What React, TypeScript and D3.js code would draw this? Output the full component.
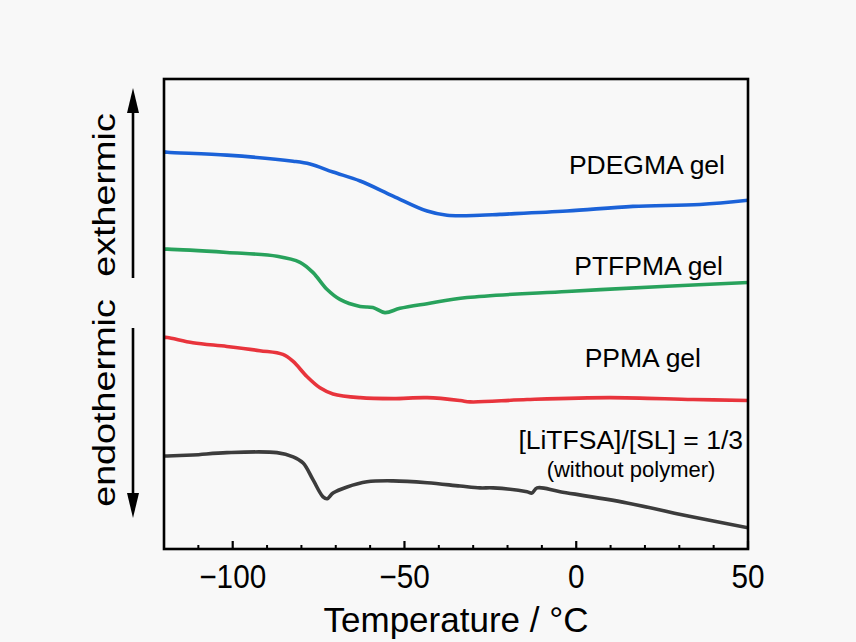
import React from "react";
import * as d3 from "d3";

// ---- Data (temperature in °C, heat flow in arbitrary units) ----
const pdegmaT = [-120, -119, -101.7, -82.4, -77.5, -70.8, -62.9, -53.3, -43.4, -37.6, -28, -22.2, -2.7, 16.5, 36, 50];
const pdegmaY = [8.45, 8.44, 8.38, 8.25, 8.19, 8.02, 7.83, 7.51, 7.19, 7.1, 7.1, 7.12, 7.19, 7.29, 7.33, 7.42];

const ptfpmaT = [-120, -119, -101.7, -87.1, -80.4, -76.6, -72.5, -68.8, -62.9, -59.2, -55.7, -51.3, -43.4, -31.8, -2.7, 26.4, 50];
const ptfpmaY = [6.38, 6.38, 6.31, 6.23, 6.1, 5.88, 5.52, 5.31, 5.16, 5.14, 5.03, 5.12, 5.22, 5.35, 5.48, 5.59, 5.67];

const ppmaT = [-120, -119, -111.6, -101.7, -92.1, -85.4, -82.4, -78.4, -74.6, -70.8, -62.9, -53.3, -43.4, -33.8, -30.9, -14.3, 9.8, 34, 50];
const ppmaY = [4.5, 4.5, 4.39, 4.31, 4.22, 4.14, 3.99, 3.67, 3.43, 3.3, 3.22, 3.2, 3.22, 3.16, 3.13, 3.18, 3.22, 3.18, 3.16];

const saltT = [-120, -119, -111.6, -101.7, -87.1, -82.4, -79.5, -76.6, -73.7, -72.5, -70.8, -66.7, -60.9, -53.3, -43.4, -33.8, -28, -24.2, -14.3, -12.9, -11.4, -4.7, 14.8, 34, 50];
const saltY = [1.98, 1.98, 2.0, 2.05, 2.05, 1.96, 1.83, 1.47, 1.11, 1.07, 1.19, 1.32, 1.43, 1.45, 1.41, 1.34, 1.3, 1.3, 1.22, 1.19, 1.3, 1.22, 0.98, 0.68, 0.45];

const seriesNames = ["PDEGMA gel", "PTFPMA gel", "PPMA gel", "[LiTFSA]/[SL] = 1/3"];
const seriesColors = ["#1b62d8", "#28a25c", "#e8343c", "#3c3c3c"];

const xTicks = [-100, -50, 0, 50];
const xMinorTicks = [-110, -90, -80, -70, -60, -40, -30, -20, -10, 10, 20, 30, 40];
const xDomain = [-120, 50];
const yDomain = [0, 10];

export default function App() {
  const W = 856, H = 642;
  const left = 164, right = 748, top = 79, bottom = 549;
  const x = d3.scaleLinear().domain(xDomain).range([left, right]);
  const y = d3.scaleLinear().domain(yDomain).range([bottom, top]);
  const line = d3
    .line<[number, number]>()
    .x((d) => x(d[0]))
    .y((d) => y(d[1]))
    .curve(d3.curveCatmullRom.alpha(0.5));

  const series = [
    { T: pdegmaT, Y: pdegmaY },
    { T: ptfpmaT, Y: ptfpmaY },
    { T: ppmaT, Y: ppmaY },
    { T: saltT, Y: saltY },
  ];

  const font = "'Liberation Sans', Arial, Helvetica, sans-serif";
  const arrowX = 133;

  return (
    <svg
      width={W}
      height={H}
      style={{ position: "absolute", left: 0, top: 0, background: "#f8f8f8" }}
      fontFamily={font}
    >
      <defs>
        <clipPath id="plotclip">
          <rect x={left} y={top} width={right - left} height={bottom - top} />
        </clipPath>
      </defs>
      <rect x={0} y={0} width={W} height={H} fill="#f8f8f8" />
      <g clipPath="url(#plotclip)">
        {series.map((s, i) => (
          <path
            key={i}
            d={line(s.T.map((t, j) => [t, s.Y[j]] as [number, number])) || ""}
            fill="none"
            stroke={seriesColors[i]}
            strokeWidth={3.6}
            strokeLinejoin="round"
            strokeLinecap="round"
          />
        ))}
      </g>
      {/* frame */}
      <rect x={left} y={top} width={right - left} height={bottom - top} fill="none" stroke="#000" strokeWidth={2.6} />
      {/* ticks */}
      {xTicks.map((t) => (
        <line key={"M" + t} x1={x(t)} x2={x(t)} y1={bottom} y2={bottom - 8} stroke="#000" strokeWidth={2.2} />
      ))}
      {xMinorTicks.map((t) => (
        <line key={"m" + t} x1={x(t)} x2={x(t)} y1={bottom} y2={bottom - 4} stroke="#000" strokeWidth={2} />
      ))}
      {xTicks.map((t) => (
        <text
          key={"L" + t}
          transform={`translate(${x(t)},588) scale(0.9,1)`}
          textAnchor="middle"
          fontSize={33}
          fill="#000"
        >
          {t < 0 ? "\u2212" + Math.abs(t) : String(t)}
        </text>
      ))}
      <text x={(left + right) / 2} y={632} textAnchor="middle" fontSize={35} fill="#000">
        Temperature / °C
      </text>

      {/* series labels */}
      <text x={725} y={174} textAnchor="end" fontSize={26.5} fill="#000">{seriesNames[0]}</text>
      <text x={723} y={275} textAnchor="end" fontSize={26.5} fill="#000">{seriesNames[1]}</text>
      <text x={701} y={367} textAnchor="end" fontSize={26.5} fill="#000">{seriesNames[2]}</text>
      <text x={743} y={449} textAnchor="end" fontSize={26.5} fill="#000">{seriesNames[3]}</text>
      <text x={631} y={477} textAnchor="middle" fontSize={22} fill="#000">(without polymer)</text>

      {/* side labels */}
      <text transform="translate(115,195) rotate(-90) scale(1.18,1)" textAnchor="middle" fontSize={32} fill="#000">
        exthermic
      </text>
      <text transform="translate(115,403) rotate(-90) scale(1.18,1)" textAnchor="middle" fontSize={32} fill="#000">
        endothermic
      </text>

      {/* arrows */}
      <line x1={arrowX} x2={arrowX} y1={110} y2={278} stroke="#000" strokeWidth={2.6} />
      <path d={`M${arrowX},88 L${arrowX - 6},113 L${arrowX + 6},113 Z`} fill="#000" />
      <line x1={arrowX} x2={arrowX} y1={328} y2={495} stroke="#000" strokeWidth={2.6} />
      <path d={`M${arrowX},518 L${arrowX - 6},493 L${arrowX + 6},493 Z`} fill="#000" />
    </svg>
  );
}
